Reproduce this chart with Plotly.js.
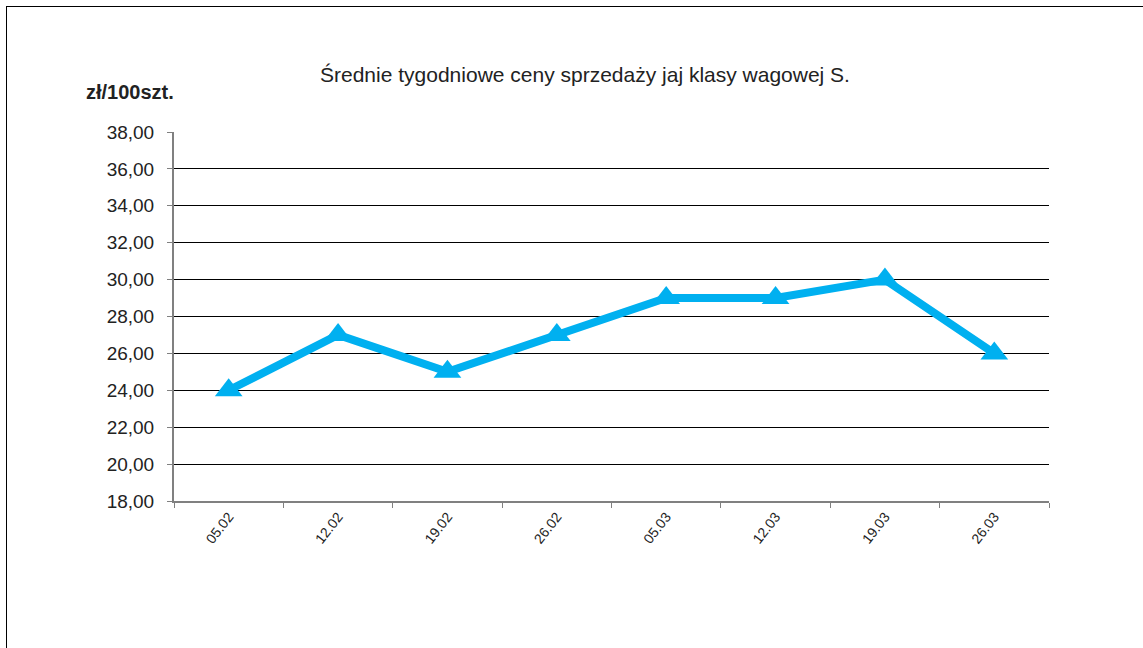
<!DOCTYPE html>
<html>
<head>
<meta charset="utf-8">
<script src="https://cdn.plot.ly/plotly-3.0.1.min.js"></script>
<style>
  html, body { margin: 0; padding: 0; background: #fff; overflow: hidden; }
  #wrap { position: relative; width: 1143px; height: 648px; overflow: hidden; }
  #chart { width: 1143px; height: 648px; }
  #frame { position: absolute; left: 6px; top: 6px; width: 1300px; height: 800px; border-left: 1px solid #000; border-top: 1px solid #000; pointer-events: none; }
</style>
</head>
<body>
<div id="wrap">
  <div id="chart"></div>
  <div id="frame"></div>
</div>
<script>
const weeks = ["05.02", "12.02", "19.02", "26.02", "05.03", "12.03", "19.03", "26.03"];
const prices = [24, 27, 25, 27, 29, 29, 30, 26];
const yTicks = [18, 20, 22, 24, 26, 28, 30, 32, 34, 36, 38];
const titleText = "Średnie tygodniowe ceny sprzedaży jaj klasy wagowej S.";
const unitText = "zł/100szt.";

const trace = {
  x: weeks,
  y: prices,
  type: "scatter",
  mode: "lines+markers",
  line: { color: "#00B0F0", width: 8 },
  marker: { symbol: "triangle-up", size: 24, color: "#00B0F0" },
  hoverinfo: "x+y"
};

const layout = {
  width: 1143,
  height: 648,
  margin: { l: 174, r: 94, t: 132, b: 147 },
  paper_bgcolor: "#fff",
  plot_bgcolor: "#fff",
  separators: ", ",
  font: { family: "Liberation Sans, Arial, sans-serif", color: "#222" },
  showlegend: false,
  title: {
    text: titleText,
    font: { size: 21, color: "#222" },
    xref: "container", x: 585 / 1143, xanchor: "center",
    yref: "container", y: 1 - 75 / 648, yanchor: "middle"
  },
  xaxis: {
    type: "category",
    tickson: "boundaries",
    ticks: "outside",
    ticklen: 5,
    tickcolor: "#808080",
    tickwidth: 1,
    showline: true,
    linecolor: "#808080",
    linewidth: 2,
    showgrid: false,
    tickangle: -52,
    tickfont: { size: 14, color: "#222" },
    range: [-0.5, weeks.length - 0.5],
    fixedrange: true
  },
  yaxis: {
    range: [18, 38],
    tickvals: yTicks,
    tickformat: ".2f",
    ticks: "outside",
    ticklen: 5,
    tickcolor: "#808080",
    ticklabelstandoff: 9,
    showline: true,
    linecolor: "#808080",
    linewidth: 2,
    showgrid: true,
    gridcolor: "#000",
    gridwidth: 1,
    zeroline: false,
    tickfont: { size: 19, color: "#222" },
    fixedrange: true
  },
  annotations: [{
    text: "<b>" + unitText + "</b>",
    xref: "paper", x: (176 - 174) / 875, xanchor: "right",
    yref: "paper", y: (501 - 92) / 369, yanchor: "middle",
    showarrow: false,
    font: { size: 20, color: "#222" }
  }]
};

Plotly.newPlot("chart", [trace], layout, { displayModeBar: false, staticPlot: true });
</script>
</body>
</html>
